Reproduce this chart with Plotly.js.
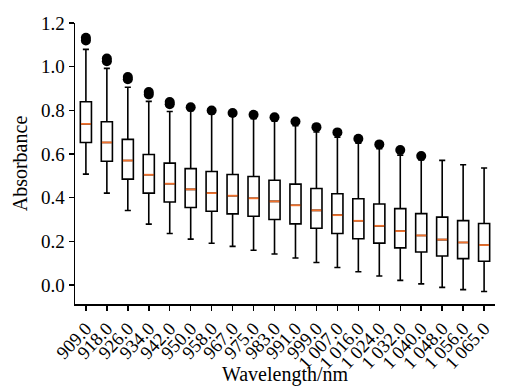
<!DOCTYPE html>
<html>
<head>
<meta charset="utf-8">
<script src="https://cdn.plot.ly/plotly-3.0.1.min.js"></script>
<style>html,body{margin:0;padding:0;background:#fff;}#chart{width:515px;height:386px;}</style>
</head>
<body>
<div id="chart"></div>
<script>
const categories = ["909.0","918.0","926.0","934.0","942.0","950.0","958.0","967.0","975.0","983.0","991.0","999.0","1 007.0","1 016.0","1 024.0","1 032.0","1 040.0","1 048.0","1 056.0","1 065.0"];
const lowerWhisker = [0.508,0.421,0.341,0.279,0.236,0.210,0.191,0.177,0.159,0.142,0.124,0.103,0.080,0.061,0.041,0.021,0.005,-0.011,-0.021,-0.030];
const q1 = [0.653,0.567,0.485,0.421,0.380,0.355,0.338,0.326,0.315,0.300,0.280,0.260,0.236,0.212,0.192,0.170,0.151,0.133,0.121,0.109];
const median = [0.738,0.653,0.570,0.505,0.464,0.438,0.421,0.409,0.397,0.383,0.365,0.342,0.320,0.294,0.271,0.247,0.227,0.208,0.195,0.183];
const q3 = [0.839,0.748,0.667,0.598,0.558,0.533,0.520,0.506,0.497,0.480,0.462,0.442,0.418,0.395,0.371,0.350,0.327,0.311,0.295,0.282];
const upperWhisker = [1.079,0.992,0.906,0.841,0.795,0.798,0.783,0.773,0.762,0.750,0.730,0.701,0.677,0.650,0.624,0.595,0.573,0.571,0.551,0.536];
const outlierCategory = ["909.0","909.0","918.0","918.0","926.0","926.0","934.0","934.0","942.0","942.0","950.0","958.0","967.0","975.0","983.0","991.0","999.0","1 007.0","1 016.0","1 024.0","1 032.0","1 040.0"];
const outlierValue = [1.120,1.132,1.025,1.037,0.942,0.953,0.873,0.884,0.828,0.838,0.814,0.799,0.788,0.780,0.768,0.749,0.723,0.699,0.670,0.644,0.618,0.591];

const idx = categories.map((c, i) => i);
const boxWidth = 0.53;

const boxTrace = {
  type: 'box',
  x: idx,
  q1: q1, median: median, q3: q3,
  lowerfence: lowerWhisker, upperfence: upperWhisker,
  width: boxWidth,
  whiskerwidth: 0.55,
  fillcolor: 'white',
  line: {color: 'black', width: 1.6},
  boxpoints: false,
  hoverinfo: 'skip',
  showlegend: false
};

const mx = [], my = [];
idx.forEach(i => { mx.push(i - boxWidth/2 + 0.03, i + boxWidth/2 - 0.03, null); my.push(median[i], median[i], null); });
const medianTrace = {
  type: 'scatter', mode: 'lines', x: mx, y: my,
  line: {color: '#f0722e', width: 1.8},
  hoverinfo: 'skip', showlegend: false
};

const outlierTrace = {
  type: 'scatter', mode: 'markers',
  x: outlierCategory.map(c => categories.indexOf(c)),
  y: outlierValue,
  marker: {color: 'black', size: 10, line: {width: 0}},
  hoverinfo: 'skip', showlegend: false
};

const fam = 'Liberation Serif, Times New Roman, serif';

const layout = {
  width: 515, height: 386,
  margin: {l: 75, r: 20, t: 23, b: 82},
  paper_bgcolor: 'white', plot_bgcolor: 'white',
  font: {family: fam, color: 'black', size: 19},
  showlegend: false,
  xaxis: {
    range: [-0.52, 19.52],
    tickmode: 'array', tickvals: idx, ticktext: categories,
    tickangle: -47,
    ticks: 'outside', ticklen: 5, tickwidth: 1.5, tickcolor: 'black',
    showline: true, linecolor: 'black', linewidth: 1.5,
    showgrid: false, zeroline: false,
    tickfont: {family: fam, size: 18.5, color: 'black'},
    title: {text: 'Wavelength/nm', font: {family: fam, size: 20, color: 'black'}, standoff: 2},
    automargin: false
  },
  yaxis: {
    range: [-0.087, 1.2],
    tickmode: 'array', tickvals: [0, 0.2, 0.4, 0.6, 0.8, 1.0, 1.2],
    tickformat: '.1f',
    ticks: 'outside', ticklen: 5, tickwidth: 1.5, tickcolor: 'black',
    showline: true, linecolor: 'black', linewidth: 1.5,
    showgrid: false, zeroline: false,
    tickfont: {family: fam, size: 19, color: 'black'},
    title: {text: 'Absorbance', font: {family: fam, size: 20, color: 'black'}, standoff: 8},
    automargin: false
  }
};

Plotly.newPlot('chart', [boxTrace, medianTrace, outlierTrace], layout, {displayModeBar: false, staticPlot: true});
</script>
</body>
</html>
